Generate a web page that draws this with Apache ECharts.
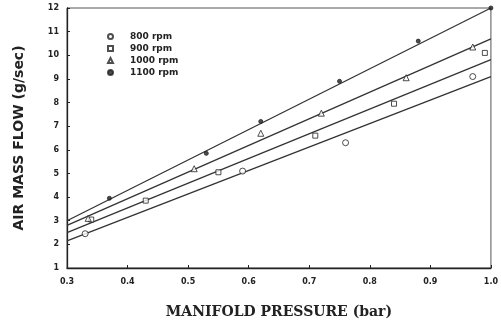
<!DOCTYPE html>
<html>
<head>
<meta charset="utf-8">
<script src="https://cdn.jsdelivr.net/npm/echarts@6/dist/echarts.min.js"></script>
<style>
  html, body { margin: 0; padding: 0; background: #fff; }
  #chart { width: 501px; height: 324px; }
</style>
</head>
<body>
<div id="chart"></div>
<script>
// measured points, [pressure bar, flow g/sec]
const rpm800 = [[0.33, 2.45], [0.59, 5.1], [0.76, 6.3], [0.97, 9.1]];
const rpm900 = [[0.34, 3.05], [0.43, 3.85], [0.55, 5.05], [0.71, 6.6], [0.84, 7.95], [0.99, 10.1]];
const rpm1000 = [[0.335, 3.1], [0.51, 5.2], [0.62, 6.7], [0.72, 7.55], [0.86, 9.05], [0.97, 10.35]];
const rpm1100 = [[0.37, 3.95], [0.53, 5.85], [0.62, 7.2], [0.75, 8.9], [0.88, 10.6], [1.0, 12]];

// fitted lines, end points at 0.3 and 1.0
const fit800 = [[0.3, 2.15], [1.0, 9.1]];
const fit900 = [[0.3, 2.5], [1.0, 9.82]];
const fit1000 = [[0.3, 2.8], [1.0, 10.69]];
const fit1100 = [[0.3, 3.0], [1.0, 12]];

const legendNames = ["800 rpm", "900 rpm", "1000 rpm", "1100 rpm"];

const ink = "#222";
const tickFont = { color: ink, fontSize: 8, fontWeight: "bold", fontFamily: "DejaVu Sans" };

function fitLine(data) {
  return {
    type: "line",
    data: data,
    symbol: "none",
    silent: true,
    lineStyle: { color: "#333", width: 1.3 },
    z: 1,
  };
}

function points(name, symbol, filled, size, data) {
  return {
    name: name,
    type: "scatter",
    data: data,
    symbol: symbol,
    symbolSize: size,
    itemStyle: {
      color: filled ? ink : "#fff",
      borderColor: ink,
      borderWidth: 1,
    },
    z: 3,
  };
}

const chart = echarts.init(document.getElementById("chart"));
chart.setOption({
  backgroundColor: "#fff",
  animation: false,
  grid: {
    left: 67, right: 6, top: 8, bottom: 54,
    show: true, borderColor: "#555", borderWidth: 1,
  },
  legend: {
    data: legendNames,
    orient: "vertical",
    left: 102, top: 27,
    itemWidth: 5, itemHeight: 5, itemGap: 3,
    textStyle: {
      color: ink, fontSize: 9, fontWeight: "bold", fontFamily: "DejaVu Sans",
      lineHeight: 9, padding: [0, 0, 0, 12],
    },
  },
  xAxis: {
    type: "value",
    min: 0.3, max: 1.0, interval: 0.1,
    name: "MANIFOLD PRESSURE (bar)",
    nameLocation: "middle",
    nameGap: 37,
    nameTextStyle: { color: ink, fontSize: 14, fontWeight: "bold", fontFamily: "DejaVu Serif" },
    axisLine: { lineStyle: { color: ink, width: 1.3 } },
    axisTick: { inside: true, length: 3, lineStyle: { color: ink } },
    axisLabel: Object.assign({ margin: 10, formatter: (v) => v.toFixed(1) }, tickFont),
    splitLine: { show: false },
  },
  yAxis: {
    type: "value",
    min: 1, max: 12, interval: 1,
    name: "AIR MASS FLOW (g/sec)",
    nameLocation: "middle",
    nameGap: 41,
    nameTextStyle: { color: ink, fontSize: 14, fontWeight: "bold", fontFamily: "DejaVu Sans" },
    axisLine: { lineStyle: { color: ink, width: 1.3 } },
    axisTick: { inside: true, length: 3, lineStyle: { color: ink } },
    axisLabel: Object.assign({ margin: 8 }, tickFont),
    splitLine: { show: false },
  },
  series: [
    fitLine(fit800),
    fitLine(fit900),
    fitLine(fit1000),
    fitLine(fit1100),
    points("800 rpm", "circle", false, 6, rpm800),
    points("900 rpm", "rect", false, 5, rpm900),
    points("1000 rpm", "triangle", false, 6, rpm1000),
    points("1100 rpm", "circle", true, 4, rpm1100),
  ],
});
</script>
</body>
</html>
